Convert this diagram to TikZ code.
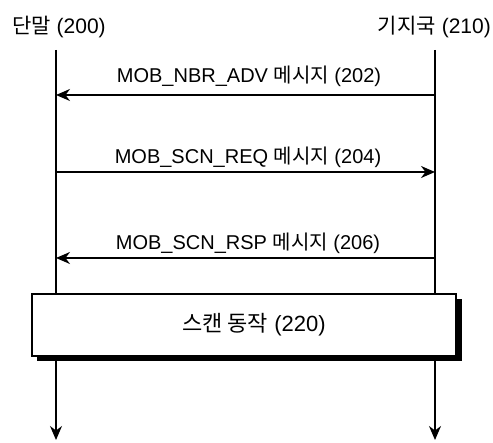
\documentclass[tikz,border=0pt]{standalone}
\usepackage{fontspec}
\setmainfont{Liberation Sans}
\newfontfamily\krfont{Noto Sans CJK KR}
\newcommand{\kr}[1]{{\krfont #1}}
\usetikzlibrary{arrows.meta}
\begin{document}
\begin{tikzpicture}[x=1pt,y=-1pt,
  lifeline/.style={line width=1.6pt},
  msg/.style={line width=1.8pt,-{Stealth[length=14pt,width=12pt]}},
  lbl/.style={font=\fontsize{20}{22}\selectfont,inner sep=0pt},
  ttl/.style={font=\fontsize{21}{23}\selectfont,inner sep=0pt},
  scanbox/.style={draw,fill=white,line width=1.4pt,minimum width=424pt,minimum height=62pt,inner sep=0pt},
  shadow/.style={fill=black}]
\useasboundingbox (0,0) rectangle (493,443);

% entity titles
\node[ttl,anchor=west] (ms) at (12,27) {\kr{단말} (200)};
\node[ttl,anchor=east] (bs) at (491,27) {\kr{기지국} (210)};

% lifeline anchors
\coordinate (ltop) at (56,50);
\coordinate (rtop) at (435,50);
\coordinate (lbot) at (56,440);
\coordinate (rbot) at (435,440);
\coordinate (l202) at (56,95);
\coordinate (r202) at (435,95);
\coordinate (l204) at (56,172);
\coordinate (r204) at (435,172);
\coordinate (l206) at (56,258);
\coordinate (r206) at (435,258);

% lifelines
\draw[lifeline] (ltop) -- (56,300);
\draw[lifeline] (rtop) -- (435,300);
\draw[lifeline,-{Stealth[length=14pt,width=12pt]}] (56,356) -- (lbot);
\draw[lifeline,-{Stealth[length=14pt,width=12pt]}] (435,356) -- (rbot);

% messages
\draw[msg] (r202) -- (l202);
\node[lbl] (t202) at (249,76) {MOB\_NBR\_ADV \kr{메시지} (202)};
\draw[msg] (l204) -- (r204);
\node[lbl] (t204) at (248,157) {MOB\_SCN\_REQ \kr{메시지} (204)};
\draw[msg] (r206) -- (l206);
\node[lbl] (t206) at (248,243) {MOB\_SCN\_RSP \kr{메시지} (206)};

% scan operation box with drop shadow
\fill[shadow] (37,299) rectangle (462,361);
\node[scanbox] (scan) at (244,325) {};
\node[lbl,font=\fontsize{22}{24}\selectfont] (tscan) at (254,325) {\kr{스캔 동작} (220)};
\end{tikzpicture}
\end{document}
